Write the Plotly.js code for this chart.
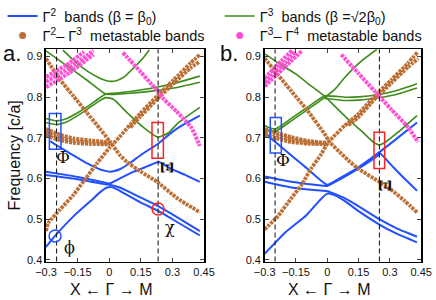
<!DOCTYPE html>
<html><head><meta charset="utf-8">
<script src="https://cdn.plot.ly/plotly-3.0.1.min.js"></script>
<style>html,body{margin:0;padding:0;background:#fff}#plot{width:436px;height:300px}</style>
</head><body><div id="plot"></div>
<script>
// ---------------- tick labels ----------------
const xTicks = [-0.3, -0.15, 0, 0.15, 0.3, 0.45];
const xTickText = ['\u22120.3', '\u22120.15', '0', '0.15', '0.3', '0.45'];
const yTicks = [0.4, 0.5, 0.6, 0.7, 0.8, 0.9];
const yTickText = ['0.4', '0.5', '0.6', '0.7', '0.8', '0.9'];

// ---------------- panel a : blue (Γ2) bands ----------------
const aBlueUx = [-0.28, -0.25, -0.17, -0.1, -0.05, -0.02, 0, 0.02, 0.05, 0.1, 0.15, 0.2, 0.23, 0.3, 0.36, 0.43];
const aBlueUy = [0.692, 0.682, 0.657, 0.636, 0.624, 0.619, 0.617, 0.618, 0.623, 0.639, 0.658, 0.675, 0.685, 0.715, 0.735, 0.755];
const aBlue1x = [-0.3, -0.17, -0.09, -0.03, 0, 0.05, 0.116, 0.18, 0.235, 0.29, 0.36, 0.43];
const aBlue1y = [0.617, 0.606, 0.598, 0.591, 0.588, 0.600, 0.617, 0.630, 0.641, 0.625, 0.609, 0.592];
const aBlue2x = [-0.3, -0.17, -0.09, -0.03, 0, 0.05, 0.1, 0.15, 0.23, 0.3, 0.43];
const aBlue2y = [0.609, 0.600, 0.593, 0.587, 0.585, 0.578, 0.566, 0.553, 0.533, 0.512, 0.471];
const aBlue3x = [-0.3, -0.257, -0.17, -0.09, -0.04, -0.01, 0.01, 0.04, 0.08, 0.15, 0.23, 0.3, 0.43];
const aBlue3y = [0.432, 0.459, 0.507, 0.544, 0.568, 0.578, 0.579, 0.573, 0.561, 0.541, 0.521, 0.500, 0.460];

// ---------------- panel a : green (Γ3) bands ----------------
const aGreenVx = [-0.22, -0.15, -0.1, -0.056, -0.02, 0.008, 0.04, 0.071, 0.1, 0.135, 0.165, 0.19];
const aGreenVy = [0.916, 0.882, 0.863, 0.850, 0.842, 0.839, 0.842, 0.850, 0.864, 0.882, 0.899, 0.916];
const aGreenF1x = [-0.3, -0.25, -0.2, -0.15, -0.1, -0.05, -0.016, 0.05, 0.1, 0.2, 0.3, 0.43];
const aGreenF1y = [0.748, 0.742, 0.748, 0.762, 0.778, 0.797, 0.808, 0.811, 0.814, 0.822, 0.833, 0.852];
const aGreenF2x = [-0.3, -0.2, -0.1, -0.016, 0.05, 0.1, 0.2, 0.3, 0.43];
const aGreenF2y = [0.914, 0.877, 0.840, 0.808, 0.808, 0.810, 0.815, 0.822, 0.837];
const aGreenLx = [-0.3, -0.25, -0.2, -0.15, -0.1, -0.05, -0.016, 0.02, 0.087, 0.167, 0.23, 0.28, 0.325, 0.43];
const aGreenLy = [0.738, 0.733, 0.740, 0.755, 0.772, 0.790, 0.799, 0.795, 0.761, 0.724, 0.702, 0.712, 0.736, 0.775];

// ---------------- panel a : brown (Γ2–Γ3) metastable ----------------
const aBrown1x = [-0.3, -0.233, -0.17, -0.106, -0.043, 0.005, 0.052, 0.084, 0.15, 0.227, 0.322, 0.43];
const aBrown1y = [0.895, 0.843, 0.803, 0.762, 0.722, 0.690, 0.657, 0.641, 0.617, 0.592, 0.552, 0.517];
const aBrown2x = [-0.3, -0.289, -0.233, -0.17, -0.122, -0.059, 0.0, 0.05, 0.1, 0.147, 0.227, 0.306, 0.386, 0.43];
const aBrown2y = [0.471, 0.491, 0.524, 0.560, 0.593, 0.637, 0.675, 0.703, 0.733, 0.760, 0.803, 0.843, 0.884, 0.905];
const aBrown2bx = [0.1, 0.147, 0.227, 0.306, 0.386, 0.43];
const aBrown2by = [0.726, 0.752, 0.795, 0.834, 0.872, 0.888];
const aBrown3x = [-0.3, -0.233, -0.17, -0.09, 0.005];
const aBrown3ay = [0.722, 0.708, 0.699, 0.694, 0.689];
const aBrown3by = [0.714, 0.701, 0.693, 0.689, 0.686];
const aBrown3cy = [0.706, 0.694, 0.688, 0.685, 0.684];

// ---------------- panel a : magenta (Γ3–Γ4) metastable ----------------
const aPinkLx = [-0.3, -0.19, -0.075];
const aPinkLy = [0.825, 0.860, 0.905];
const aPinkMx = [-0.3, -0.19, -0.1, -0.075];
const aPinkMy = [0.838, 0.872, 0.905, 0.915];
const aPinkUx = [-0.3, -0.19, -0.12];
const aPinkUy = [0.850, 0.884, 0.912];
const aPink2x = [0.065, 0.1, 0.15, 0.2, 0.23, 0.26, 0.32, 0.39, 0.43];
const aPink2y = [0.910, 0.890, 0.862, 0.832, 0.815, 0.795, 0.765, 0.725, 0.680];

// ---------------- panel b : blue (Γ2) bands ----------------
const bBlue1x = [-0.3, -0.276, -0.172, -0.09, 0, 0.067, 0.147, 0.25, 0.33, 0.43];
const bBlue1y = [0.712, 0.702, 0.657, 0.622, 0.585, 0.603, 0.627, 0.665, 0.697, 0.738];
const bBlue2x = [-0.3, -0.172, -0.05, 0, 0.067, 0.147, 0.243, 0.252, 0.307, 0.36, 0.43];
const bBlue2y = [0.605, 0.592, 0.584, 0.582, 0.600, 0.624, 0.657, 0.662, 0.633, 0.605, 0.570];
const bBlue3x = [-0.3, -0.172, -0.05, 0, 0.083, 0.147, 0.25, 0.33, 0.43];
const bBlue3y = [0.592, 0.578, 0.571, 0.569, 0.552, 0.533, 0.500, 0.478, 0.457];
const bBlue4x = [-0.3, -0.2, -0.1, -0.03, 0, 0.03, 0.083, 0.15, 0.25, 0.33, 0.43];
const bBlue4y = [0.415, 0.468, 0.510, 0.550, 0.563, 0.560, 0.545, 0.520, 0.487, 0.465, 0.443];

// ---------------- panel b : green (Γ3) bands ----------------
const bGreenDx = [-0.297, -0.217, -0.153, -0.073, -0.009, 0.038, 0.102, 0.166, 0.22, 0.25, 0.28, 0.339, 0.43];
const bGreenDy = [0.906, 0.878, 0.858, 0.826, 0.801, 0.777, 0.745, 0.716, 0.690, 0.683, 0.690, 0.714, 0.755];
const bGreenRx = [-0.3, -0.25, -0.172, -0.093, -0.013, 0.04, 0.086, 0.166, 0.238];
const bGreenRy = [0.722, 0.716, 0.742, 0.770, 0.799, 0.822, 0.850, 0.890, 0.918];
const bGreenF1x = [-0.3, -0.25, -0.172, -0.093, -0.013, 0.05, 0.086, 0.15, 0.246, 0.33, 0.43];
const bGreenF1y = [0.730, 0.722, 0.748, 0.776, 0.803, 0.802, 0.800, 0.801, 0.807, 0.816, 0.833];
const bGreenF2x = [-0.013, 0.05, 0.086, 0.15, 0.246, 0.33, 0.43];
const bGreenF2y = [0.797, 0.794, 0.792, 0.793, 0.799, 0.807, 0.823];

// ---------------- panel b : brown (Γ2–Γ3) metastable ----------------
const bBrown1x = [-0.3, -0.236, -0.172, -0.093, -0.013, 0.011, 0.06, 0.1, 0.147, 0.243, 0.3, 0.371, 0.43];
const bBrown1y = [0.896, 0.855, 0.815, 0.766, 0.710, 0.690, 0.665, 0.645, 0.625, 0.594, 0.575, 0.545, 0.517];
const bBrown2x = [-0.3, -0.236, -0.172, -0.124, -0.077, -0.029, 0.003, 0.083, 0.147, 0.227, 0.307, 0.387, 0.435];
const bBrown2y = [0.475, 0.508, 0.552, 0.584, 0.625, 0.660, 0.688, 0.730, 0.758, 0.803, 0.843, 0.884, 0.912];
const bBrown2bx = [0.1, 0.147, 0.227, 0.307, 0.387, 0.435];
const bBrown2by = [0.731, 0.750, 0.795, 0.835, 0.874, 0.895];
const bBrown3x = [-0.3, -0.172, -0.093, -0.005];
const bBrown3ay = [0.722, 0.702, 0.693, 0.688];
const bBrown3by = [0.714, 0.696, 0.689, 0.686];
const bBrown3cy = [0.706, 0.690, 0.686, 0.684];

// ---------------- panel b : magenta (Γ3–Γ4) metastable ----------------
const bPinkLx = [-0.3, -0.2, -0.12];
const bPinkLy = [0.827, 0.876, 0.915];
const bPinkMx = [-0.3, -0.2, -0.15];
const bPinkMy = [0.837, 0.886, 0.912];
const bPinkUx = [-0.3, -0.22, -0.17];
const bPinkUy = [0.847, 0.889, 0.915];
const bPink2x = [0.067, 0.147, 0.227, 0.307, 0.387, 0.435];
const bPink2y = [0.905, 0.860, 0.815, 0.770, 0.726, 0.690];

// ---------------- styles ----------------
const BLUE = '#2350ff', GREEN = '#3d8c1a', BROWN = '#bb6f34', PINK = '#ff4fd2';
const FONT = 'Liberation Sans, Arial, sans-serif';

function ln(x, y, ax, color, width, dash, extra) {
  const t = {type: 'scatter', mode: 'lines', x: x, y: y,
    xaxis: ax === 'a' ? 'x' : 'x2', yaxis: ax === 'a' ? 'y' : 'y2',
    line: {color: color, width: width, dash: dash || 'solid', shape: 'spline', smoothing: 0.5},
    hoverinfo: 'skip', showlegend: false};
  return Object.assign(t, extra || {});
}
const blue = (x, y, ax, extra) => ln(x, y, ax, BLUE, 2, 'solid', extra);
const green = (x, y, ax, extra) => ln(x, y, ax, GREEN, 1.6, 'solid', extra);
const brown = (x, y, ax) => ln(x, y, ax, BROWN, 3.8, '3px,1px');
const pink = (x, y, ax) => ln(x, y, ax, PINK, 4, '3px,1px');

const traces = [
  blue(aBlueUx, aBlueUy, 'a', {showlegend: true, legend: 'legend', name: '\u0393<sup>2</sup>  bands (\u03b2 = \u03b2<sub>0</sub>)'}),
  {type: 'scatter', mode: 'markers', x: [null], y: [null], name: '\u0393<sup>2</sup>\u2013 \u0393<sup>3</sup>  metastable bands',
   marker: {color: BROWN, size: 7}, legend: 'legend3', showlegend: true, hoverinfo: 'skip'},
  green(aGreenVx, aGreenVy, 'a', {showlegend: true, legend: 'legend2', name: '\u0393<sup>3</sup>  bands (\u03b2 =\u221a2\u03b2<sub>0</sub>)'}),
  {type: 'scatter', mode: 'markers', x: [null], y: [null], name: '\u0393<sup>3</sup>\u2013 \u0393<sup>4</sup>  metastable bands',
   marker: {color: PINK, size: 7}, legend: 'legend4', showlegend: true, hoverinfo: 'skip'},
  blue(aBlue1x, aBlue1y, 'a'), blue(aBlue2x, aBlue2y, 'a'), blue(aBlue3x, aBlue3y, 'a'),
  green(aGreenF1x, aGreenF1y, 'a'), green(aGreenF2x, aGreenF2y, 'a'), green(aGreenLx, aGreenLy, 'a'),
  brown(aBrown1x, aBrown1y, 'a'), brown(aBrown2x, aBrown2y, 'a'), brown(aBrown2bx, aBrown2by, 'a'),
  brown(aBrown3x, aBrown3ay, 'a'), brown(aBrown3x, aBrown3by, 'a'), brown(aBrown3x, aBrown3cy, 'a'),
  pink(aPinkLx, aPinkLy, 'a'), pink(aPinkMx, aPinkMy, 'a'), pink(aPinkUx, aPinkUy, 'a'), pink(aPink2x, aPink2y, 'a'),
  blue(bBlue1x, bBlue1y, 'b'), blue(bBlue2x, bBlue2y, 'b'), blue(bBlue3x, bBlue3y, 'b'), blue(bBlue4x, bBlue4y, 'b'),
  green(bGreenDx, bGreenDy, 'b'), green(bGreenRx, bGreenRy, 'b'), green(bGreenF1x, bGreenF1y, 'b'), green(bGreenF2x, bGreenF2y, 'b'),
  brown(bBrown1x, bBrown1y, 'b'), brown(bBrown2x, bBrown2y, 'b'), brown(bBrown2bx, bBrown2by, 'b'),
  brown(bBrown3x, bBrown3ay, 'b'), brown(bBrown3x, bBrown3by, 'b'), brown(bBrown3x, bBrown3cy, 'b'),
  pink(bPinkLx, bPinkLy, 'b'), pink(bPinkMx, bPinkMy, 'b'), pink(bPinkUx, bPinkUy, 'b'), pink(bPink2x, bPink2y, 'b')
];

const axX = (dom, anchor) => ({domain: dom, anchor: anchor, range: [-0.3, 0.45], tickvals: xTicks, ticktext: xTickText,
  ticks: 'inside', ticklen: 4, mirror: 'ticks', showline: true, linecolor: '#000', linewidth: 1.5,
  showgrid: false, zeroline: false, tickfont: {size: 11, color: '#111', family: FONT}});
const axY = (anchor, title) => ({domain: [0.13, 0.847], anchor: anchor, range: [0.396, 0.918], tickvals: yTicks, ticktext: yTickText,
  ticks: 'inside', ticklen: 4, mirror: 'ticks', showline: true, linecolor: '#000', linewidth: 1.5,
  showgrid: false, zeroline: false, tickfont: {size: 11, color: '#111', family: FONT},
  title: title ? {text: title, font: {size: 16, color: '#111', family: FONT}, standoff: 2} : undefined});

const dash = (xr, xv) => ({type: 'line', xref: xr, yref: (xr === 'x' ? 'y' : 'y2') + ' domain', x0: xv, x1: xv, y0: 0, y1: 1,
  line: {color: '#222', width: 1.1, dash: '5px,3px'}});
const rect = (xr, x0, x1, y0, y1, c) => ({type: 'rect', xref: xr, yref: xr === 'x' ? 'y' : 'y2', x0: x0, x1: x1, y0: y0, y1: y1,
  line: {color: c, width: 1.5}});
const circ = (xr, xc, yc, c) => ({type: 'circle', xref: xr, yref: xr === 'x' ? 'y' : 'y2', xsizemode: 'pixel', ysizemode: 'pixel',
  xanchor: xc, yanchor: yc, x0: -6, x1: 6, y0: -6, y1: 6, line: {color: c, width: 1.5}});

const lbl = (xr, x, y, text, size, angle, fam) => ({xref: xr, yref: xr === 'x' ? 'y' : 'y2', x: x, y: y, text: text,
  showarrow: false, textangle: angle || 0, xanchor: 'center', yanchor: 'middle',
  font: {size: size, color: '#111', family: fam || 'DejaVu Serif, serif'}});

const legStyle = (x, yPx) => ({x: x, y: 1 - yPx / 300, xanchor: 'left', yanchor: 'middle', bgcolor: 'rgba(0,0,0,0)',
  font: {size: 14.5, family: FONT, color: '#111'}, itemwidth: 30});

const layout = {
  width: 436, height: 300, margin: {l: 0, r: 0, t: 0, b: 0},
  paper_bgcolor: '#fff', plot_bgcolor: '#fff',
  font: {family: FONT, color: '#111'},
  xaxis: axX([0.1055, 0.468], 'y'), yaxis: axY('x', 'Frequency [c/a]'),
  xaxis2: axX([0.607, 0.966], 'y2'), yaxis2: axY('x2', null),
  legend: legStyle(0.006, 12), legend2: legStyle(0.504, 12),
  legend3: legStyle(0.006, 32), legend4: legStyle(0.504, 32),
  shapes: [
    dash('x', -0.25), dash('x', 0.232), dash('x2', -0.25), dash('x2', 0.25),
    rect('x', -0.284, -0.229, 0.672, 0.760, BLUE), rect('x', 0.203, 0.257, 0.650, 0.738, '#ff2020'),
    rect('x2', -0.273, -0.220, 0.663, 0.750, BLUE), rect('x2', 0.224, 0.275, 0.625, 0.714, '#ff2020'),
    circ('x', -0.257, 0.459, BLUE), circ('x', 0.232, 0.525, '#ff2020')
  ],
  annotations: [
    {xref: 'paper', yref: 'paper', x: 12 / 436, y: 1 - 50 / 300, xanchor: 'center', yanchor: 'middle', text: 'a.', showarrow: false, font: {size: 22, family: FONT, color: '#111'}},
    {xref: 'paper', yref: 'paper', x: 229 / 436, y: 1 - 50 / 300, xanchor: 'center', yanchor: 'middle', text: 'b.', showarrow: false, font: {size: 22, family: FONT, color: '#111'}},
    {xref: 'x', yref: 'paper', x: 0.01, y: 11 / 300, xanchor: 'center', yanchor: 'middle', text: 'X \u2190 \u0393 \u2192 M', showarrow: false, font: {size: 16, family: FONT, color: '#111'}},
    {xref: 'x2', yref: 'paper', x: 0.01, y: 11 / 300, xanchor: 'center', yanchor: 'middle', text: 'X \u2190 \u0393 \u2192 M', showarrow: false, font: {size: 16, family: FONT, color: '#111'}},
    lbl('x', -0.219, 0.653, '\u03a6', 17), lbl('x', -0.19, 0.430, '\u03d5', 16), lbl('x', 0.29, 0.480, '\u03c7', 16),
    lbl('x', 0.275, 0.627, '<b>\u039e</b>', 17, 90),
    lbl('x2', -0.212, 0.646, '\u03a6', 17), lbl('x2', 0.275, 0.584, '<b>\u039e</b>', 17, 90)
  ]
};

Plotly.newPlot('plot', traces, layout, {staticPlot: true, displayModeBar: false});
</script></body></html>
